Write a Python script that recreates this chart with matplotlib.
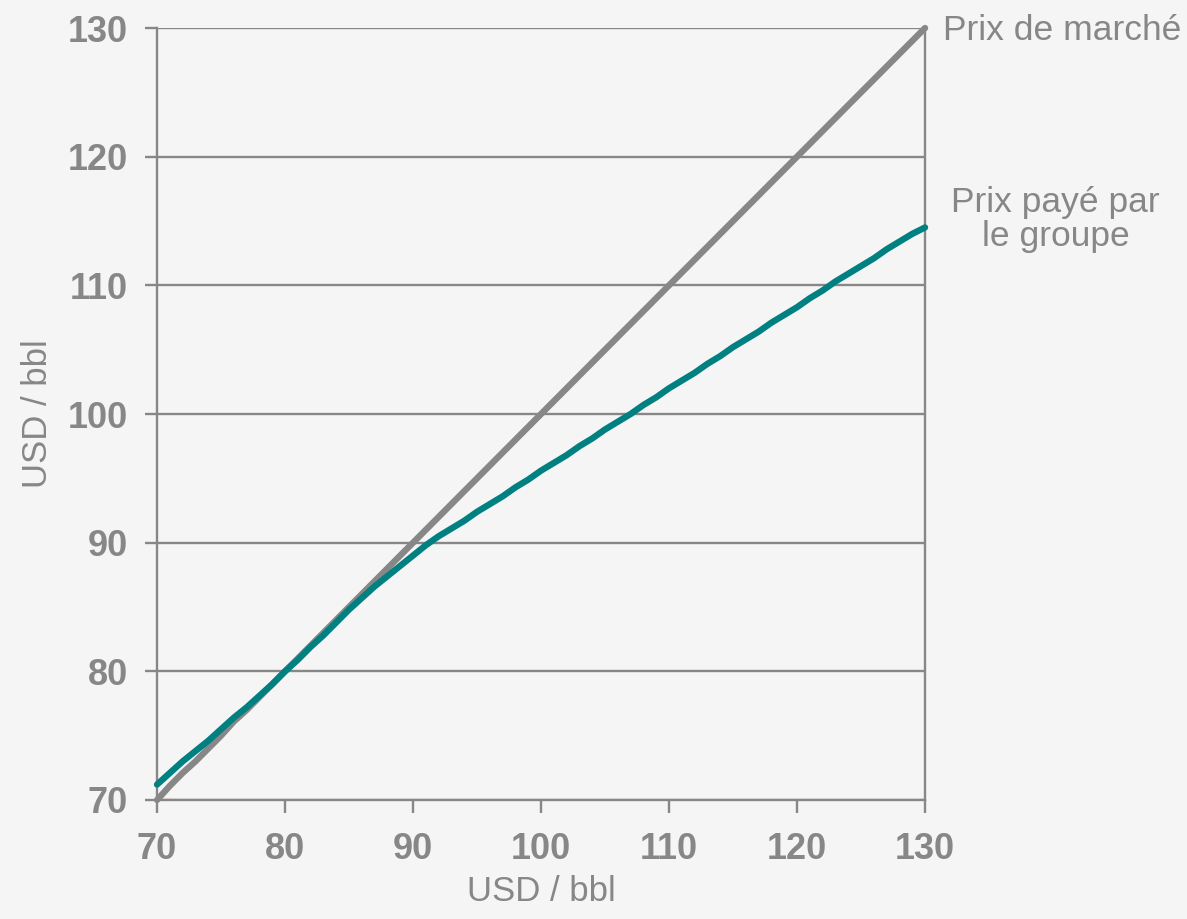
import matplotlib.pyplot as plt
from matplotlib import font_manager

# pick the regular-width Liberation Sans files (not the Narrow ones)
reg_path = None
bold_path = None
for f in font_manager.fontManager.ttflist:
    if f.name == 'Liberation Sans' and 'Narrow' not in f.fname:
        if f.weight in (700, 'bold') and f.style == 'normal':
            bold_path = f.fname
        elif f.weight in (400, 'normal', 'regular') and f.style == 'normal':
            reg_path = f.fname
plt.rcParams['font.family'] = ['Liberation Sans', 'DejaVu Sans']

# market price and price paid by the group, USD / bbl
x_price = list(range(70, 131))
market_price = [70, 71.1, 72.1, 73, 74, 75, 76.1, 77, 78, 79, 80,
                81, 82, 83, 84, 85, 86, 87, 88, 89, 90,
                91, 92, 93, 94, 95, 96, 97, 98, 99, 100,
                101, 102, 103, 104, 105, 106, 107, 108, 109, 110,
                111, 112, 113, 114, 115, 116, 117, 118, 119, 120,
                121, 122, 123, 124, 125, 126, 127, 128, 129, 130]
group_price = [71.2, 72.1, 73.0, 73.8, 74.6, 75.5, 76.4, 77.2, 78.1, 79.0, 80.0,
               80.9, 81.9, 82.8, 83.8, 84.8, 85.7, 86.6, 87.4, 88.2, 89.0,
               89.8, 90.5, 91.1, 91.7, 92.4, 93.0, 93.6, 94.3, 94.9, 95.6,
               96.2, 96.8, 97.5, 98.1, 98.8, 99.4, 100.0, 100.7, 101.3, 102.0,
               102.6, 103.2, 103.9, 104.5, 105.2, 105.8, 106.4, 107.1, 107.7, 108.3,
               109.0, 109.6, 110.3, 110.9, 111.5, 112.1, 112.8, 113.4, 114.0, 114.5]
ticks = [70, 80, 90, 100, 110, 120, 130]

BG = '#f5f5f5'
GREY = '#878787'
TEAL = '#008080'

bold_font = font_manager.FontProperties(fname=bold_path, size=26) if bold_path else \
    font_manager.FontProperties(family='Liberation Sans', weight='bold', size=26)
reg_font = font_manager.FontProperties(fname=reg_path, size=25) if reg_path else \
    font_manager.FontProperties(family='Liberation Sans', size=25)
note_font = reg_font.copy()
note_font.set_size(25.5)

fig = plt.figure(figsize=(11.87, 9.19), dpi=100, facecolor=BG)
ax = fig.add_axes([0.1323, 0.1295, 0.6470, 0.8400], facecolor=BG)

ax.plot(x_price, market_price, color=GREY, lw=4.6, solid_capstyle='round', zorder=3, clip_on=False)
ax.plot(x_price, group_price, color=TEAL, lw=4.6, solid_capstyle='round', zorder=4, clip_on=False)

ax.set_xlim(70, 130)
ax.set_ylim(70, 130)
ax.set_xticks(ticks)
ax.set_yticks(ticks)
ax.yaxis.grid(True, color=GREY, lw=1.7)
ax.set_axisbelow(True)

for side in ['left', 'bottom', 'right']:
    ax.spines[side].set_color(GREY)
    ax.spines[side].set_linewidth(1.7)
ax.spines['top'].set_visible(False)

ax.tick_params(axis='both', direction='out', length=9, width=1.7, color=GREY,
               labelcolor=GREY)
ax.tick_params(axis='x', pad=14)
ax.tick_params(axis='y', pad=12)
for lab in ax.get_xticklabels() + ax.get_yticklabels():
    lab.set_fontproperties(bold_font)

ax.set_xlabel('USD / bbl', color=GREY, fontproperties=reg_font, labelpad=6)
ax.set_ylabel('USD / bbl', color=GREY, fontproperties=reg_font, labelpad=10)

ax.text(131.4, 129.8, 'Prix de marché', color=GREY, fontproperties=note_font,
        ha='left', va='center', clip_on=False)
ax.text(140.2, 115.1, 'Prix payé par\nle groupe', color=GREY, fontproperties=note_font,
        ha='center', va='center', linespacing=1.05, clip_on=False)

fig.savefig('out.png', dpi=100, facecolor=BG)
